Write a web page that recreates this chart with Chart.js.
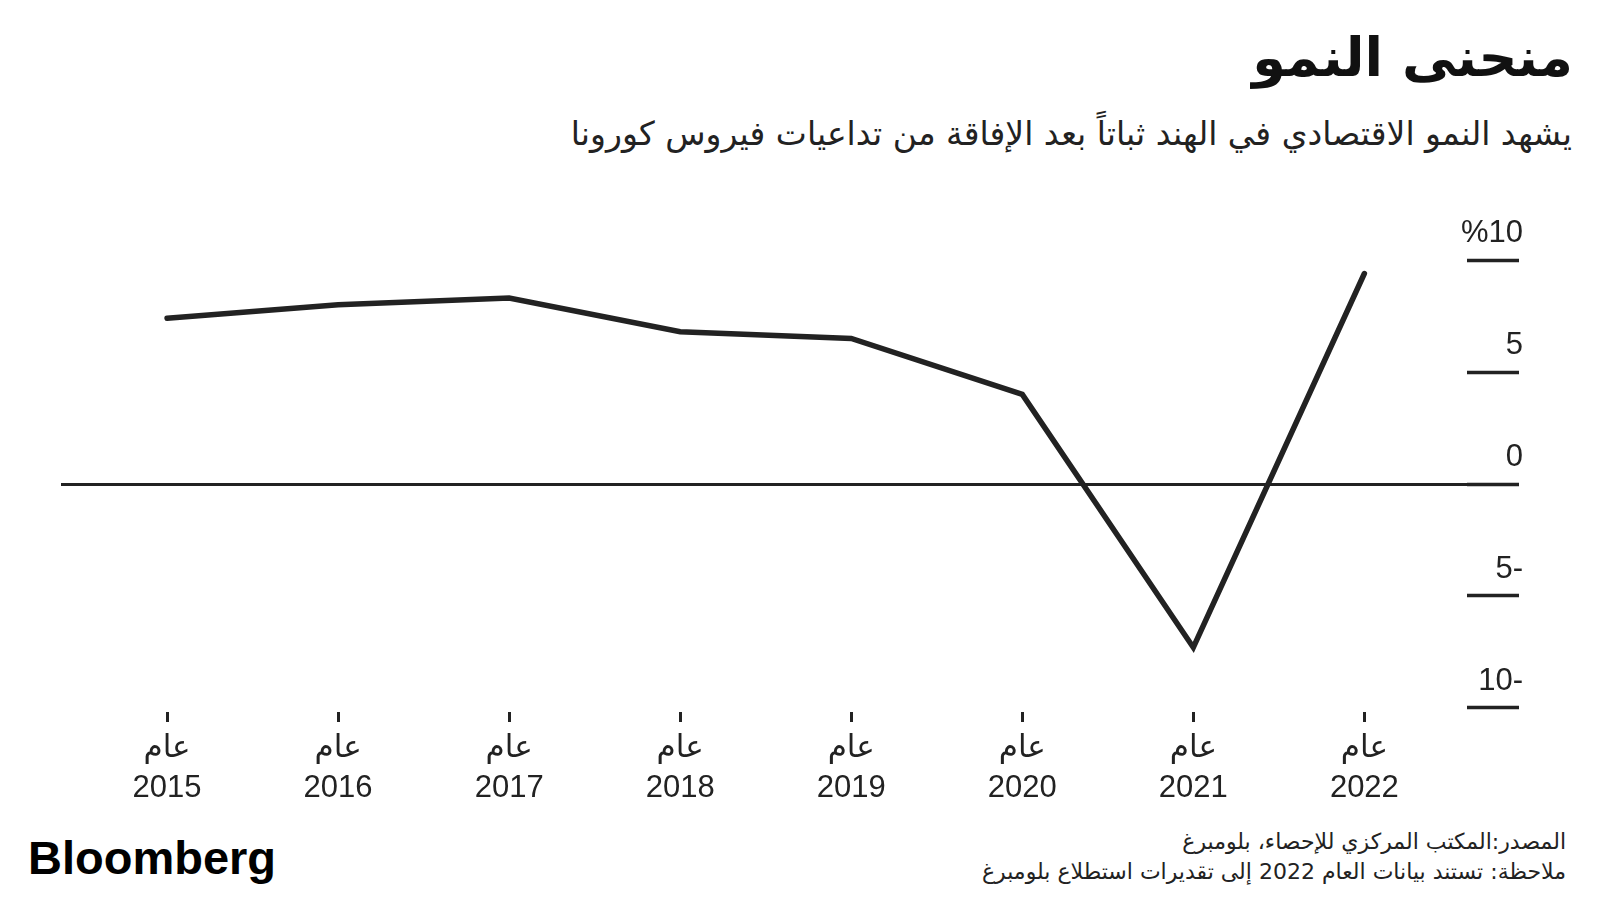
<!DOCTYPE html>
<html lang="ar">
<head>
<meta charset="utf-8">
<script src="https://cdn.jsdelivr.net/npm/chart.js@4.4.1/dist/chart.umd.min.js"></script>
<style>
  html, body { margin: 0; padding: 0; background: #fff; }
  body { width: 1600px; height: 900px; position: relative; overflow: hidden; }
  #myChart { position: absolute; left: 0; top: 0; }
  .ar { position: absolute; direction: rtl; font-family: 'DejaVu Sans', sans-serif; color: #111; white-space: nowrap; }
  #title { right: 27px; top: 26px; font-size: 54px; font-weight: bold; }
  #subtitle { right: 28px; top: 114px; font-size: 33px; color: #222; }
  #source { right: 34px; top: 827px; font-size: 22px; color: #222; line-height: 30px; }
  #logo { position: absolute; left: 28px; top: 830px; font-family: 'Liberation Sans', Arial, sans-serif; font-weight: bold; font-size: 47px; letter-spacing: 0px; color: #000; }
</style>
</head>
<body>
<div id="title" class="ar">منحنى النمو</div>
<div id="subtitle" class="ar">يشهد النمو الاقتصادي في الهند ثباتاً بعد الإفاقة من تداعيات فيروس كورونا</div>
<div id="source" class="ar">المصدر:المكتب المركزي للإحصاء، بلومبرغ<br>ملاحظة: تستند بيانات العام 2022 إلى تقديرات استطلاع بلومبرغ</div>
<div id="logo">Bloomberg</div>
<canvas id="myChart" width="1600" height="900"></canvas>
<script>
// Years on the x axis and GDP growth (%)
const years = [2015, 2016, 2017, 2018, 2019, 2020, 2021, 2022];
const growth = [7.4, 8.0, 8.3, 6.8, 6.5, 4.0, -7.3, 9.4];
const yearPrefix = "عام";

// y tick values and the labels printed above them (minus shown after the number)
const yTicks = [-10, -5, 0, 5, 10];
const yTickLabels = ["10-", "5-", "0", "5", "%10"];

const ink = '#222';

// draws the y labels just above each short tick mark
const yLabelPlugin = {
  id: 'yLabels',
  afterDraw(chart) {
    const scale = chart.scales.y;
    const ctx = chart.ctx;
    ctx.save();
    ctx.font = "31px 'Liberation Sans', Arial, sans-serif";
    ctx.fillStyle = ink;
    ctx.textAlign = 'right';
    ctx.textBaseline = 'alphabetic';
    ctx.direction = 'ltr';
    yTicks.forEach((v, i) => {
      ctx.fillText(yTickLabels[i], scale.right + 4, scale.getPixelForValue(v) - 18);
    });
    ctx.restore();
  }
};

const ctx = document.getElementById('myChart').getContext('2d');
new Chart(ctx, {
  type: 'line',
  data: {
    datasets: [{
      data: years.map((y, i) => ({ x: y, y: growth[i] })),
      borderColor: ink,
      borderWidth: 5.5,
      borderCapStyle: 'round',
      borderJoinStyle: 'miter',
      pointRadius: 0,
      tension: 0,
      clip: false
    }]
  },
  options: {
    responsive: false,
    animation: false,
    layout: { padding: { left: 61, right: 81, top: 239, bottom: 78 } },
    plugins: {
      legend: { display: false },
      tooltip: { enabled: false }
    },
    scales: {
      x: {
        type: 'linear',
        min: 2014.38,
        max: 2022.6,
        afterBuildTicks(scale) {
          scale.ticks = years.map(v => ({ value: v }));
        },
        afterFit(scale) { scale.height = 110; },
        border: { display: false },
        grid: {
          drawOnChartArea: false,
          drawTicks: true,
          tickLength: 10,
          tickWidth: 3,
          tickColor: ink
        },
        ticks: {
          padding: 6,
          color: ink,
          font: { family: "'Liberation Sans', 'DejaVu Sans', sans-serif", size: 31, lineHeight: 1.3 },
          maxRotation: 0,
          autoSkip: false,
          callback: (v) => [yearPrefix, String(v)]
        }
      },
      y: {
        position: 'right',
        min: -10.18,
        max: 10.94,
        afterBuildTicks(scale) {
          scale.ticks = yTicks.map(v => ({ value: v }));
        },
        afterFit(scale) { scale.width = 52; },
        border: { display: false },
        grid: {
          drawOnChartArea: true,
          color: (c) => (c.tick && c.tick.value === 0 ? ink : 'rgba(0,0,0,0)'),
          lineWidth: 3,
          drawTicks: true,
          tickLength: 52,
          tickWidth: 3.5,
          tickColor: ink
        },
        ticks: { display: false }
      }
    }
  },
  plugins: [yLabelPlugin]
});
</script>
</body>
</html>
